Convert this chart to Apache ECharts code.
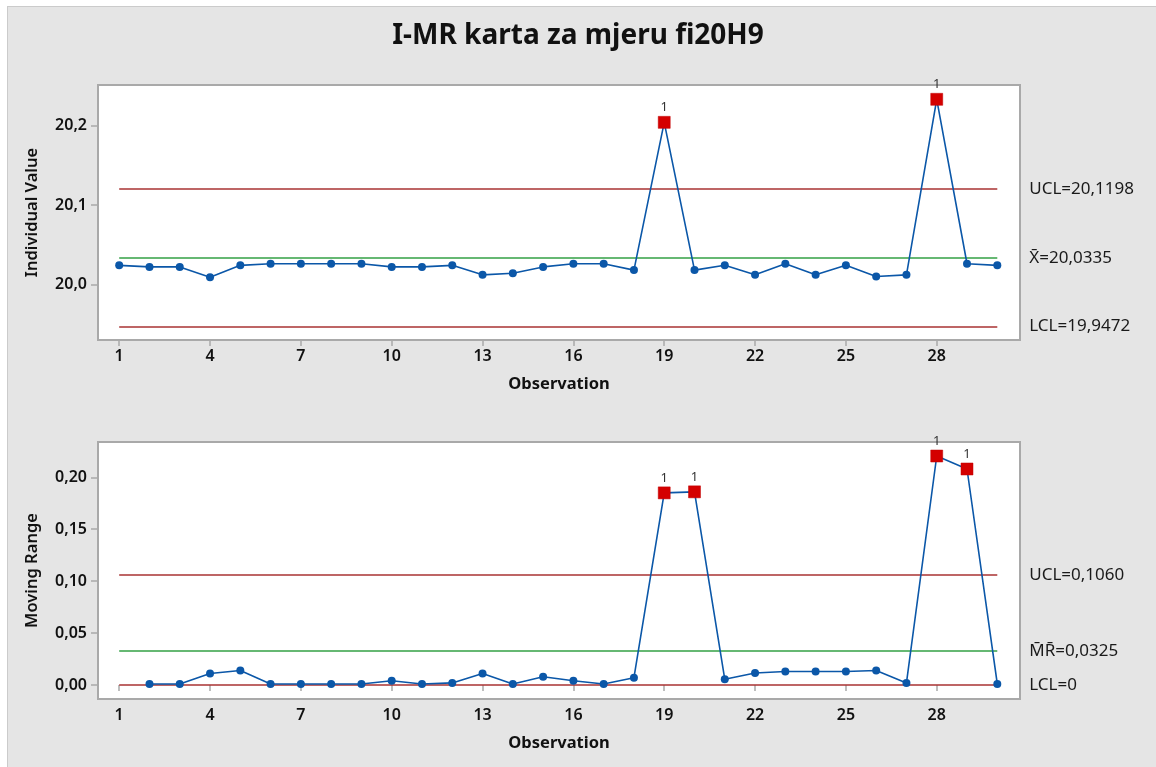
<!DOCTYPE html>
<html><head><meta charset="utf-8">
<script src="https://cdn.jsdelivr.net/npm/echarts@6/dist/echarts.min.js"></script>
<style>
html,body{margin:0;padding:0;background:#fff;}
#panel{position:absolute;left:7px;top:6px;width:1149px;height:761px;background:#e5e5e5;border-left:1px solid #cbcbcb;border-top:1px solid #cbcbcb;box-sizing:border-box;}
#chart{position:absolute;left:0;top:0;width:1156px;height:767px;}
</style></head><body>
<div id="panel"></div><div id="chart"></div>
<script>
const titleText = 'I-MR karta za mjeru fi20H9';
const observations = [1,2,3,4,5,6,7,8,9,10,11,12,13,14,15,16,17,18,19,20,21,22,23,24,25,26,27,28,29,30];
const individualValues = [20.024,20.022,20.022,20.009,20.024,20.026,20.026,20.026,20.026,20.022,20.022,20.024,20.012,20.014,20.022,20.026,20.026,20.018,20.204,20.018,20.024,20.012,20.026,20.012,20.024,20.010,20.012,20.233,20.026,20.024];
const movingRanges = [null,0.001,0.001,0.011,0.014,0.001,0.001,0.001,0.001,0.004,0.001,0.002,0.011,0.001,0.008,0.004,0.001,0.007,0.185,0.186,0.0055,0.0115,0.013,0.013,0.013,0.014,0.002,0.2205,0.208,0.001];
const flaggedI = [19, 28];
const flaggedMR = [19, 20, 28, 29];
const flagText = '1';
const iUCL = 20.1198, iCenter = 20.0335, iLCL = 19.9472;
const mrUCL = 0.1060, mrCenter = 0.0325, mrLCL = 0;
const iLimitLabels = ['UCL=20,1198', 'X\u0304=20,0335', 'LCL=19,9472'];
const mrLimitLabels = ['UCL=0,1060', 'M\u0304R\u0304=0,0325', 'LCL=0'];
const xTickLabels = [1,4,7,10,13,16,19,22,25,28];
const iTicks = [20.0, 20.1, 20.2];
const mrTicks = [0, 0.05, 0.10, 0.15, 0.20];
const xAxisName = 'Observation';
const iAxisName = 'Individual Value';
const mrAxisName = 'Moving Range';

const FONT = 'Noto Sans';
const BLUE = '#0b57a8', RED = '#a83232', GREEN = '#33a045', FLAG = '#d40000', GRAYLINE = '#a9a9a9';
const firstObs = observations[0], lastObs = observations[observations.length - 1];

function pairs(vals){ return observations.map((o,i)=>[o, vals[i]]); }
function flagged(vals, list){ return list.map(o => [o, vals[observations.indexOf(o)]]); }
function limitLine(y, color, text){
  return [{coord:[firstObs, y], lineStyle:{color:color, width:1.6, type:'solid'},
           label:{show:true, position:'end', distance:32, formatter:text, color:'#1a1a1a', fontSize:17, fontFamily:FONT}},
          {coord:[lastObs, y]}];
}
function xAxisCfg(gi){
  return {type:'value', gridIndex:gi, min:0.3, max:30.75,
    axisLine:{show:false}, splitLine:{show:false},
    axisTick:{show:true, length:6, customValues:xTickLabels, lineStyle:{color:GRAYLINE, width:1.5}},
    axisLabel:{customValues:xTickLabels, margin:8, color:'#111', fontSize:16, fontWeight:600, fontFamily:FONT},
    name:xAxisName, nameLocation:'middle', nameGap:36,
    nameTextStyle:{color:'#111', fontSize:16.5, fontWeight:'bold', fontFamily:FONT}};
}
function yAxisCfg(gi, min, max, ticks, dec, name){
  return {type:'value', gridIndex:gi, min:min, max:max,
    axisLine:{show:false}, splitLine:{show:false},
    axisTick:{show:true, length:7, customValues:ticks, lineStyle:{color:GRAYLINE, width:1.5}},
    axisLabel:{customValues:ticks, margin:11, color:'#111', fontSize:16, fontWeight:600, fontFamily:FONT,
      formatter: v => v.toFixed(dec).replace('.', ',')},
    name:name, nameLocation:'middle', nameGap:57, nameRotate:90,
    nameTextStyle:{color:'#111', fontSize:16.5, fontWeight:600, fontFamily:FONT}};
}
function dataSeries(xi, vals, limits, labels){
  return {type:'line', xAxisIndex:xi, yAxisIndex:xi, data:pairs(vals), symbol:'circle', symbolSize:8,
    itemStyle:{color:BLUE}, lineStyle:{color:BLUE, width:1.6}, z:3, connectNulls:false,
    markLine:{silent:true, symbol:['none','none'], animation:false, z:2,
      data:[limitLine(limits[0], RED, labels[0]), limitLine(limits[1], GREEN, labels[1]), limitLine(limits[2], RED, labels[2])]}};
}
function flagSeries(xi, vals, list){
  return {type:'scatter', xAxisIndex:xi, yAxisIndex:xi, data:flagged(vals, list), symbol:'rect', symbolSize:12,
    itemStyle:{color:FLAG, opacity:1, borderColor:'#c00000', borderWidth:0.5}, z:6,
    label:{show:true, position:'top', distance:2, formatter:flagText, color:'#333', fontSize:13, fontFamily:FONT}};
}

const chart = echarts.init(document.getElementById('chart'));
chart.setOption({
  animation:false,
  backgroundColor:'transparent',
  title:{text:titleText, left:'center', top:22, padding:0,
    textStyle:{fontSize:28, fontWeight:'bold', color:'#111', fontFamily:FONT}},
  grid:[
    {left:98, top:85, width:922, height:255, show:true, backgroundColor:'#fff', borderColor:GRAYLINE, borderWidth:2},
    {left:98, top:442, width:922, height:257, show:true, backgroundColor:'#fff', borderColor:GRAYLINE, borderWidth:2}
  ],
  xAxis:[xAxisCfg(0), xAxisCfg(1)],
  yAxis:[yAxisCfg(0, 19.93, 20.251, iTicks, 1, iAxisName), yAxisCfg(1, -0.0135, 0.234, mrTicks, 2, mrAxisName)],
  series:[
    dataSeries(0, individualValues, [iUCL, iCenter, iLCL], iLimitLabels),
    flagSeries(0, individualValues, flaggedI),
    dataSeries(1, movingRanges, [mrUCL, mrCenter, mrLCL], mrLimitLabels),
    flagSeries(1, movingRanges, flaggedMR)
  ]
});
</script></body></html>
